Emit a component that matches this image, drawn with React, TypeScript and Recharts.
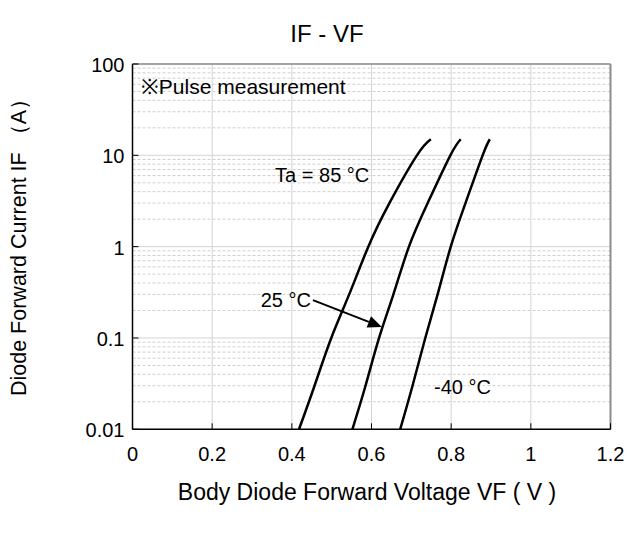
import React from "react";
import {
  LineChart,
  Line,
  XAxis,
  YAxis,
  CartesianGrid,
  ReferenceLine,
  ReferenceDot,
} from "recharts";

// forward current points (A), shared by the three curves
const currents = [0.01, 0.03, 0.1, 0.3, 1, 3, 10, 15];
// forward voltage (V) for each temperature
const vf85 = [0.418, 0.457, 0.499, 0.544, 0.592, 0.645, 0.714, 0.749];
const vf25 = [0.552, 0.585, 0.619, 0.655, 0.694, 0.741, 0.798, 0.824];
const vfMinus40 = [0.672, 0.703, 0.735, 0.766, 0.799, 0.836, 0.879, 0.897];

const xTicks = [0, 0.2, 0.4, 0.6, 0.8, 1, 1.2];
const yTicks = [0.01, 0.1, 1, 10, 100];
const minorSteps = [2, 3, 4, 5, 6, 7, 8, 9];

const FONT = '"Liberation Sans", Arial, sans-serif';

const toRows = (vs: number[]) => vs.map((v, i) => ({ v, i: currents[i] }));

const minorLines = yTicks
  .slice(0, -1)
  .flatMap((d) => minorSteps.map((m) => +(d * m).toPrecision(3)));

function XTick({ x, y, payload }: any) {
  return (
    <g>
      <line x1={x} y1={y} x2={x} y2={y - 6} stroke="#000" strokeWidth={1} />
      <text x={x} y={y + 32} textAnchor="middle" fontSize={20} fill="#000" fontFamily={FONT}>
        {String(payload.value)}
      </text>
    </g>
  );
}

function YTick({ x, y, payload }: any) {
  return (
    <g>
      <line x1={x} y1={y} x2={x + 6} y2={y} stroke="#000" strokeWidth={1} />
      <text
        x={x - 8}
        y={y + 1}
        textAnchor="end"
        dominantBaseline="central"
        fontSize={20}
        fill="#000"
        fontFamily={FONT}
      >
        {String(payload.value)}
      </text>
    </g>
  );
}

const note = (txt: string, anchor: "start" | "end", size = 20) => (p: any) =>
  (
    <text
      x={p.cx}
      y={p.cy}
      textAnchor={anchor}
      dominantBaseline="central"
      fontSize={size}
      fill="#000"
      fontFamily={FONT}
    >
      {txt}
    </text>
  );

function Arrow({ x1, y1, x2, y2 }: any) {
  const a = Math.atan2(y2 - y1, x2 - x1);
  const len = 14;
  const w = 6;
  const bx = x2 - len * Math.cos(a);
  const by = y2 - len * Math.sin(a);
  const px = -Math.sin(a) * w;
  const py = Math.cos(a) * w;
  return (
    <g>
      <line x1={x1} y1={y1} x2={bx} y2={by} stroke="#000" strokeWidth={2} />
      <polygon points={`${x2},${y2} ${bx + px},${by + py} ${bx - px},${by - py}`} fill="#000" />
    </g>
  );
}

export default function App() {
  return (
    <div style={{ position: "absolute", left: 0, top: 0, width: 628, height: 534, background: "#fff", fontFamily: FONT }}>
      <div
        style={{
          position: "absolute",
          left: 327,
          top: 34,
          fontSize: 24,
          whiteSpace: "nowrap",
          transform: "translate(-50%, -50%)",
        }}
      >
        IF - VF
      </div>
      <div
        style={{
          position: "absolute",
          left: 18,
          top: 242,
          fontSize: 21.5,
          whiteSpace: "nowrap",
          transform: "translate(-50%, -50%) rotate(-90deg)",
        }}
      >
        Diode Forward Current IF （A）
      </div>
      <div
        style={{
          position: "absolute",
          left: 367,
          top: 492,
          fontSize: 23,
          whiteSpace: "nowrap",
          transform: "translate(-50%, -50%)",
        }}
      >
        Body Diode Forward Voltage VF ( V )
      </div>
      <LineChart
        width={628}
        height={534}
        margin={{ top: 64, right: 17.5, left: 72.5, bottom: 74.7 }}
        style={{ position: "absolute", left: 0, top: 0 }}
      >
        <CartesianGrid stroke="#d4d4d4" strokeWidth={1} />
        {minorLines.map((m) => (
          <ReferenceLine key={m} y={m} stroke="#cfcfcf" strokeDasharray="3 2" strokeWidth={1} />
        ))}
        <XAxis
          type="number"
          dataKey="v"
          domain={[0, 1.2]}
          ticks={xTicks}
          tickSize={0}
          tickMargin={0}
          height={30}
          tick={<XTick />}
          axisLine={{ stroke: "#000", strokeWidth: 1.5 }}
          allowDataOverflow
        />
        <YAxis
          type="number"
          scale="log"
          domain={[0.01, 100]}
          ticks={yTicks}
          tickSize={0}
          tickMargin={0}
          width={60}
          tick={<YTick />}
          axisLine={{ stroke: "#000", strokeWidth: 1.5 }}
          allowDataOverflow
        />
        <ReferenceLine y={100} stroke="#8c8c8c" strokeWidth={1.5} />
        <ReferenceLine x={1.2} stroke="#8c8c8c" strokeWidth={2} />
        <Line data={toRows(vf85)} dataKey="i" type="natural" stroke="#000" strokeWidth={2.5} dot={false} isAnimationActive={false} />
        <Line data={toRows(vf25)} dataKey="i" type="natural" stroke="#000" strokeWidth={2.5} dot={false} isAnimationActive={false} />
        <Line data={toRows(vfMinus40)} dataKey="i" type="natural" stroke="#000" strokeWidth={2.5} dot={false} isAnimationActive={false} />
        <ReferenceLine
          segment={[
            { x: 0.453, y: 0.26 },
            { x: 0.626, y: 0.132 },
          ]}
          shape={<Arrow />}
        />
        <ReferenceDot x={0.021} y={56} r={0} shape={note("※Pulse measurement", "start", 21)} />
        <ReferenceDot x={0.358} y={6.1} r={0} shape={note("Ta = 85 °C", "start")} />
        <ReferenceDot x={0.448} y={0.26} r={0} shape={note("25 °C", "end")} />
        <ReferenceDot x={0.757} y={0.029} r={0} shape={note("-40 °C", "start")} />
      </LineChart>
    </div>
  );
}
